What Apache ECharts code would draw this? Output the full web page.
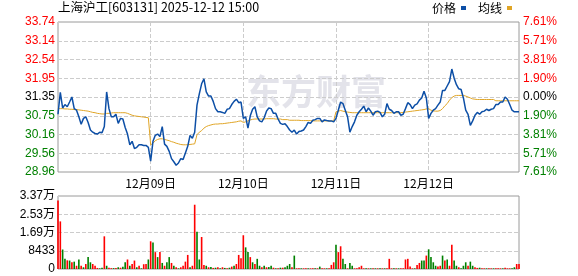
<!DOCTYPE html>
<html>
<head>
<meta charset="utf-8">
<script src="https://cdn.jsdelivr.net/npm/echarts@6/dist/echarts.min.js"></script>
<style>html,body{margin:0;padding:0;background:#fff}#c{width:578px;height:276px}</style>
</head>
<body>
<div id="c"></div>
<script>
const titleText = '上海沪工[603131] 2025-12-12 15:00';
const prevClose = 31.35;
const days = ['12月08日','12月09日','12月10日','12月11日','12月12日'];
const priceTicksPct = { min: -7.61, max: 7.61, step: 1.9025 };
const volTicks = { min: 0, max: 33732, step: 8433 };

const price1 = [30.80,31.50,31.00,31.11,31.04,31.19,31.35,30.98,30.93,30.72,30.48,30.67,30.72,30.54,30.30,30.23,30.19,30.17,30.23,30.21,30.41,31.51,30.98,30.72,30.72,30.80,30.51,30.67,30.65,30.38,30.17,29.83,29.94,29.71,29.75,29.83,29.83,29.81,29.81,29.75];
const price2 = [29.31,29.94,30.13,30.17,30.09,30.41,29.85,29.78,29.62,29.39,29.29,29.18,29.25,29.39,29.36,29.57,29.78,30.13,30.04,30.23,31.09,31.45,31.77,31.93,31.51,31.38,31.38,31.21,30.98,30.88,30.88,30.86,30.83,30.96,30.98,31.11,31.21,31.28,31.17,31.19];
const price3 = [30.67,30.72,30.36,30.75,30.96,31.04,30.72,30.59,30.56,30.69,30.90,31.00,30.98,30.83,30.83,30.65,30.51,30.48,30.50,30.41,30.30,30.23,30.30,30.17,30.25,30.27,30.30,30.41,30.54,30.51,30.61,30.63,30.67,30.67,30.56,30.62,30.60,30.59,30.59,30.56];
const price4 = [30.67,30.93,31.19,31.14,30.93,30.72,30.23,30.41,30.56,30.77,30.88,30.96,31.06,30.88,31.00,30.90,30.77,30.88,30.90,30.86,30.72,30.80,31.14,30.96,30.92,30.83,30.88,30.88,30.77,30.80,30.98,31.17,31.11,30.98,31.09,31.13,31.25,31.32,31.53,31.32];
const price5 = [30.67,30.83,30.93,30.98,31.09,31.19,31.56,31.56,31.70,31.84,32.24,31.95,31.74,31.61,31.59,31.32,30.93,30.80,30.45,30.59,30.77,30.86,30.80,30.88,30.90,30.96,30.92,30.96,30.98,31.11,31.11,31.19,31.19,31.35,31.28,31.11,30.93,30.88,30.88,30.88];

const avg1 = [30.98,30.98,30.98,30.97,30.97,30.96,30.96,30.95,30.95,30.94,30.93,30.92,30.91,30.90,30.88,30.86,30.85,30.83,30.82,30.81,30.81,30.83,30.83,30.84,30.85,30.85,30.85,30.85,30.85,30.85,30.83,30.80,30.77,30.75,30.74,30.73,30.72,30.71,30.70,30.69];
const avg2 = [29.83,29.88,29.96,30.00,30.02,30.02,30.00,29.98,29.96,29.93,29.91,29.88,29.86,29.84,29.83,29.83,29.83,29.84,29.85,29.86,30.15,30.23,30.28,30.36,30.41,30.44,30.46,30.48,30.49,30.49,30.50,30.50,30.51,30.52,30.53,30.54,30.55,30.56,30.58,30.59];
const avg3 = [30.54,30.56,30.59,30.62,30.64,30.65,30.65,30.65,30.65,30.65,30.66,30.66,30.66,30.66,30.65,30.65,30.65,30.63,30.63,30.63,30.61,30.61,30.61,30.61,30.61,30.60,30.60,30.60,30.60,30.60,30.59,30.59,30.59,30.59,30.59,30.59,30.59,30.59,30.59,30.59];
const avg4 = [30.88,30.90,30.92,30.90,30.88,30.87,30.86,30.85,30.85,30.85,30.85,30.85,30.85,30.85,30.85,30.85,30.85,30.85,30.85,30.85,30.85,30.85,30.85,30.85,30.85,30.85,30.85,30.85,30.85,30.86,30.87,30.88,30.89,30.90,30.91,30.92,30.93,30.94,30.95,30.97];
const avg5 = [30.98,30.93,30.91,30.90,30.90,30.92,30.98,31.07,31.14,31.25,31.33,31.38,31.40,31.40,31.40,31.40,31.38,31.35,31.32,31.29,31.28,31.27,31.27,31.27,31.27,31.27,31.27,31.27,31.27,31.23,31.23,31.23,31.23,31.23,31.23,31.23,31.23,31.23,31.23,31.23];

const vol1 = [31700,22000,9000,4700,4000,3900,3100,3400,1500,4400,1500,800,2300,5500,3100,2300,1500,500,300,600,15100,1500,600,400,400,500,800,600,1000,3100,4400,1500,2300,3900,800,1500,300,2200,2300,4400];
const vol2 = [12800,12200,7800,5500,7800,2800,1500,3100,5500,2800,1500,800,300,800,1500,3400,6500,800,1500,29700,17200,4400,14800,1900,1500,800,900,500,600,800,300,800,500,300,600,1100,1500,2300,6500,5000];
const vol3 = [15600,10000,7800,5500,3100,2300,4700,1500,800,1500,800,900,1500,600,300,300,600,600,800,1500,2300,800,6200,300,300,300,300,300,300,300,300,300,300,1100,300,300,300,300,1900,3100];
const vol4 = [11200,7800,10500,4700,2300,300,2800,1500,300,300,800,1500,300,300,300,300,300,300,300,300,300,300,300,4700,300,300,300,300,300,300,4400,4700,1200,300,300,1900,2800,3900,3900,6200];
const vol5 = [9100,5500,3100,1500,1200,1500,6200,3900,4400,1500,11200,3900,1500,800,300,1500,3100,1500,3400,1500,800,500,600,300,300,300,300,300,300,300,300,300,300,600,300,300,300,800,2300,2300];

const dir1 = [1,1,-1,-1,1,-1,1,-1,1,-1,1,-1,1,-1,-1,1,1,1,-1,-1,1,-1,1,1,-1,1,-1,1,-1,-1,1,-1,1,1,-1,1,-1,1,1,-1];
const dir2 = [1,-1,1,-1,1,-1,1,-1,-1,1,-1,1,-1,1,1,1,1,-1,1,1,-1,-1,1,1,-1,1,-1,1,-1,1,-1,1,-1,1,-1,1,-1,1,1,1];
const dir3 = [1,-1,-1,1,-1,1,-1,-1,1,-1,1,-1,-1,1,-1,1,-1,1,-1,-1,-1,1,-1,1,1,-1,1,1,-1,1,1,-1,1,-1,1,1,-1,1,1,1];
const dir4 = [-1,1,1,-1,-1,1,-1,-1,1,1,1,1,1,-1,1,-1,1,-1,1,-1,1,-1,1,1,1,-1,1,-1,1,1,1,1,1,1,-1,1,1,-1,-1,1];
const dir5 = [-1,-1,-1,-1,1,1,-1,1,-1,1,1,-1,-1,1,-1,-1,-1,1,-1,-1,1,1,-1,1,1,-1,1,1,-1,1,1,1,-1,1,1,1,-1,-1,1,1];

const prices = [].concat(price1, price2, price3, price4, price5);
const avgs = [].concat(avg1, avg2, avg3, avg4, avg5);
const vols = [].concat(vol1, vol2, vol3, vol4, vol5);
const dirs = [].concat(dir1, dir2, dir3, dir4, dir5);
const perDay = price1.length;
const cats = prices.map((_, i) => days[Math.floor(i / perDay)] + '#' + (i % perDay));

const toPct = p => (p / prevClose - 1) * 100;
const RED = '#ff0000', GREEN = '#008000';
const FONT = '"Liberation Sans", "Noto Sans CJK SC", sans-serif';
const CJK = '"Noto Sans CJK SC", sans-serif';
const isDayStart = i => i % perDay === 0 && i > 0;
const pctColor = v => { v = parseFloat(v); return v > 0.001 ? RED : (v < -0.001 ? GREEN : '#000'); };

const chart = echarts.init(document.getElementById('c'));
chart.setOption({
  animation: false,
  textStyle: { fontFamily: FONT },
  title: { text: titleText, left: 58, top: 1, padding: 0,
    textStyle: { fontSize: 12.5, fontWeight: 'normal', color: '#000', fontFamily: CJK } },
  legend: { data: ['价格', '均线'], right: 66, top: 2, padding: 0, align: 'right', icon: 'rect',
    itemWidth: 5, itemHeight: 4, itemGap: 12,
    textStyle: { fontSize: 12, color: '#000', fontFamily: CJK } },
  graphic: [{ type: 'text', left: 246, top: 74, z: -10, silent: true,
    style: { text: '东方财富', fontSize: 35, fontWeight: 'bold', fontFamily: 'Noto Sans CJK SC', fill: 'rgba(200,200,214,0.5)' } }],
  grid: [
    { left: 58, top: 22, width: 461, height: 150, show: true, borderColor: '#9a9a9a', borderWidth: 1, backgroundColor: 'transparent' },
    { left: 58, top: 196, width: 461, height: 73, show: true, borderColor: '#9a9a9a', borderWidth: 1, backgroundColor: 'transparent' }
  ],
  xAxis: [
    { type: 'category', gridIndex: 0, data: cats, boundaryGap: false,
      axisLine: { show: false }, axisTick: { show: false },
      axisLabel: { interval: isDayStart, formatter: v => v.split('#')[0], color: '#000', fontSize: 12, margin: 5, fontFamily: CJK },
      splitLine: { show: true, interval: isDayStart, lineStyle: { type: 'dashed', color: '#cccccc', width: 1 } } },
    { type: 'category', gridIndex: 1, data: cats, boundaryGap: false,
      axisLine: { show: false }, axisTick: { show: false }, axisLabel: { show: false }, splitLine: { show: false } }
  ],
  yAxis: [
    { type: 'value', gridIndex: 0, min: priceTicksPct.min, max: priceTicksPct.max, interval: priceTicksPct.step,
      axisLine: { show: false }, axisTick: { show: false },
      splitLine: { show: true, lineStyle: { type: 'dashed', color: '#cccccc' } },
      axisLabel: { margin: 3, fontSize: 12, color: pctColor,
        formatter: v => (prevClose * (1 + v / 100) + 1e-7).toFixed(2) } },
    { type: 'value', gridIndex: 0, position: 'right', min: priceTicksPct.min, max: priceTicksPct.max, interval: priceTicksPct.step,
      axisLine: { show: false }, axisTick: { show: false }, splitLine: { show: false },
      axisLabel: { margin: 4, fontSize: 12, color: pctColor,
        formatter: v => (Math.abs(v) + 1e-6).toFixed(2) + '%' } },
    { type: 'value', gridIndex: 1, min: volTicks.min, max: volTicks.max, interval: volTicks.step,
      axisLine: { show: false }, axisTick: { show: false },
      splitLine: { show: true, lineStyle: { type: 'dashed', color: '#cccccc' } },
      axisLabel: { margin: 3, fontSize: 12, color: '#000',
        formatter: v => v >= 10000 ? (v / 10000).toFixed(2) + '万' : String(Math.round(v)) } }
  ],
  series: [
    { name: '价格', type: 'line', xAxisIndex: 0, yAxisIndex: 0, data: prices.map(toPct),
      showSymbol: false, symbol: 'none', lineStyle: { width: 1.5, color: '#0d4fa6' }, itemStyle: { color: '#0d4fa6' }, z: 4 },
    { name: '均线', type: 'line', xAxisIndex: 0, yAxisIndex: 0, data: avgs.map(toPct),
      showSymbol: false, symbol: 'none', lineStyle: { width: 1, color: '#e0a526' }, itemStyle: { color: '#e0a526' }, z: 3 },
    { name: '成交量', type: 'bar', xAxisIndex: 1, yAxisIndex: 2, barWidth: '70%',
      data: vols.map((v, i) => ({ value: v, itemStyle: { color: dirs[i] > 0 ? RED : GREEN } })) }
  ]
});
</script>
</body>
</html>
